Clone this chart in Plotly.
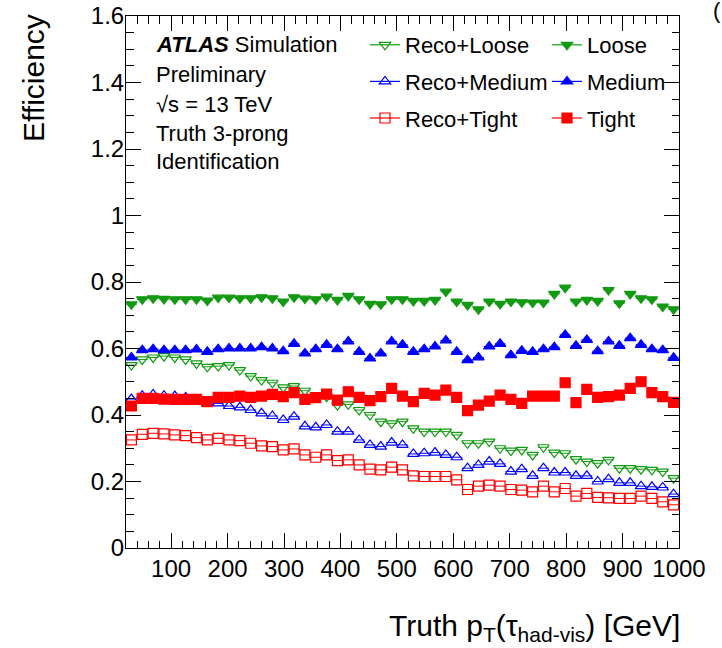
import numpy as np
import plotly.graph_objects as go

# pT binning of the efficiency histograms (GeV)
pt_edges = np.linspace(20.0, 1000.0, 52)
pt = 0.5 * (pt_edges[:-1] + pt_edges[1:])
pt_half = 0.5 * np.diff(pt_edges)

# Reconstruction + identification efficiencies
eff_reco_loose = [0.550, 0.567, 0.573, 0.577, 0.573, 0.567, 0.555, 0.545, 0.547, 0.550,
                  0.535, 0.517, 0.505, 0.497, 0.483, 0.487, 0.473, 0.460, 0.455, 0.430,
                  0.432, 0.415, 0.400, 0.380, 0.375, 0.380, 0.360, 0.350, 0.350, 0.350,
                  0.340, 0.315, 0.315, 0.320, 0.300, 0.293, 0.295, 0.280, 0.303, 0.287,
                  0.285, 0.267, 0.260, 0.255, 0.265, 0.240, 0.240, 0.237, 0.235, 0.230, 0.210]
eff_reco_medium = [0.448, 0.458, 0.462, 0.458, 0.457, 0.453, 0.447, 0.435, 0.435, 0.427,
                   0.423, 0.415, 0.405, 0.397, 0.385, 0.395, 0.366, 0.363, 0.370, 0.350,
                   0.350, 0.325, 0.310, 0.305, 0.317, 0.310, 0.283, 0.285, 0.287, 0.280,
                   0.273, 0.240, 0.250, 0.260, 0.253, 0.230, 0.237, 0.217, 0.240, 0.227,
                   0.227, 0.217, 0.217, 0.200, 0.207, 0.196, 0.196, 0.186, 0.184, 0.182, 0.162]
eff_reco_tight = [0.325, 0.342, 0.345, 0.343, 0.340, 0.338, 0.332, 0.325, 0.330, 0.325,
                  0.323, 0.315, 0.307, 0.305, 0.295, 0.298, 0.280, 0.273, 0.280, 0.263,
                  0.265, 0.250, 0.237, 0.235, 0.243, 0.235, 0.217, 0.215, 0.215, 0.215,
                  0.205, 0.176, 0.186, 0.189, 0.186, 0.176, 0.174, 0.169, 0.186, 0.169,
                  0.179, 0.156, 0.164, 0.152, 0.151, 0.149, 0.149, 0.156, 0.149, 0.139, 0.130]

# Identification-only efficiencies
eff_loose = [0.733, 0.748, 0.751, 0.749, 0.748, 0.748, 0.748, 0.744, 0.753, 0.753,
             0.751, 0.751, 0.754, 0.751, 0.741, 0.754, 0.750, 0.748, 0.756, 0.746,
             0.758, 0.748, 0.734, 0.733, 0.748, 0.748, 0.743, 0.743, 0.746, 0.771,
             0.741, 0.731, 0.718, 0.741, 0.734, 0.741, 0.739, 0.738, 0.738, 0.764,
             0.783, 0.741, 0.746, 0.743, 0.776, 0.736, 0.764, 0.751, 0.748, 0.726, 0.718]
eff_medium = [0.573, 0.595, 0.598, 0.595, 0.595, 0.595, 0.597, 0.590, 0.598, 0.600,
              0.600, 0.600, 0.604, 0.600, 0.592, 0.614, 0.585, 0.598, 0.611, 0.598,
              0.621, 0.590, 0.570, 0.585, 0.621, 0.611, 0.590, 0.598, 0.606, 0.624,
              0.590, 0.565, 0.573, 0.606, 0.614, 0.580, 0.593, 0.590, 0.598, 0.604,
              0.641, 0.608, 0.626, 0.592, 0.621, 0.608, 0.631, 0.611, 0.598, 0.595, 0.572]
eff_tight = [0.427, 0.450, 0.450, 0.448, 0.447, 0.447, 0.447, 0.440, 0.453, 0.453,
             0.457, 0.453, 0.457, 0.462, 0.455, 0.467, 0.447, 0.452, 0.463, 0.445,
             0.470, 0.453, 0.443, 0.455, 0.480, 0.457, 0.440, 0.465, 0.460, 0.475,
             0.453, 0.413, 0.430, 0.442, 0.460, 0.447, 0.435, 0.457, 0.457, 0.457,
             0.497, 0.437, 0.477, 0.453, 0.455, 0.460, 0.480, 0.500, 0.467, 0.455, 0.438]

GREEN = "#129a12"
BLUE = "#0000ff"
RED = "#ff0000"
FONT = "Liberation Sans, Arial, Helvetica, sans-serif"

series = [
    ("Reco+Loose", eff_reco_loose, GREEN, "triangle-down-open", 10, "legend"),
    ("Loose", eff_loose, GREEN, "triangle-down", 10, "legend2"),
    ("Reco+Medium", eff_reco_medium, BLUE, "triangle-up-open", 10, "legend"),
    ("Medium", eff_medium, BLUE, "triangle-up", 10, "legend2"),
    ("Reco+Tight", eff_reco_tight, RED, "square-open", 10, "legend"),
    ("Tight", eff_tight, RED, "square", 10, "legend2"),
]

fig = go.Figure()
for name, vals, col, sym, size, leg in series:
    fig.add_trace(go.Scatter(
        x=pt, y=vals, mode="markers", name=name, showlegend=False,
        marker=dict(symbol=sym, size=size, color=col, line=dict(color=col, width=1.2)),
        error_x=dict(type="data", array=pt_half, color=col, thickness=1, width=0),
    ))
    # legend entry drawn in ROOT style: marker on a horizontal bar
    fig.add_trace(go.Scatter(
        x=[None], y=[None], mode="lines+markers", name=name, legend=leg,
        legendgroup=name,
        line=dict(color=col, width=1.2),
        marker=dict(symbol=sym, size=size, color=col, line=dict(color=col, width=1.2)),
    ))

axis_common = dict(
    showline=True, linecolor="black", linewidth=1, mirror="allticks",
    ticks="inside", ticklen=15, tickwidth=1, tickcolor="black",
    showgrid=False, zeroline=False, automargin=False,
    tickfont=dict(family=FONT, size=24, color="black"),
)

fig.update_xaxes(range=[20, 1000], tick0=0, dtick=100, ticklabelstandoff=-1,
                 minor=dict(dtick=20, ticks="inside", ticklen=7.5, tickcolor="black", showgrid=False),
                 **axis_common)
fig.update_yaxes(range=[0, 1.6], tick0=0, dtick=0.2, ticklabelstandoff=-4,
                 minor=dict(dtick=0.05, ticks="inside", ticklen=7.5, tickcolor="black", showgrid=False),
                 **axis_common)

legend_common = dict(
    font=dict(family=FONT, size=22, color="black"),
    bgcolor="rgba(0,0,0,0)", borderwidth=0,
    xanchor="left", yanchor="top", tracegroupgap=5,
    itemclick=False, itemdoubleclick=False,
)

W, H = 722, 648
ML, MR, MT, MB = 126, 43, 16, 100
PW, PH = W - ML - MR, H - MT - MB


def px(xp):
    return (xp - ML) / PW


def py(yp):
    return (H - MB - yp) / PH


fig.update_layout(
    width=W, height=H,
    margin=dict(l=ML, r=MR, t=MT, b=MB, autoexpand=False),
    paper_bgcolor="white", plot_bgcolor="white",
    font=dict(family=FONT, color="black"),
    legend=dict(x=px(365), y=py(24), **legend_common),
    legend2=dict(x=px(547), y=py(24), **legend_common),
)

text_lines = [
    ("<b><i>ATLAS</i></b> Simulation", 44),
    ("Preliminary", 74),
    ("√s = 13 TeV", 104),
    ("Truth 3-prong", 133),
    ("Identification", 161),
]
for txt, yc in text_lines:
    fig.add_annotation(text=txt, xref="paper", yref="paper", x=px(154), y=py(yc),
                       xanchor="left", yanchor="middle", showarrow=False,
                       font=dict(family=FONT, size=22, color="black"))

fig.add_annotation(text="Efficiency", xref="paper", yref="paper", x=px(34), y=py(12),
                   xanchor="center", yanchor="top", textangle=-90, showarrow=False,
                   font=dict(family=FONT, size=30, color="black"))
fig.add_annotation(text="Truth p<sub>T</sub>(τ<sub>had-vis</sub>) [GeV]",
                   xref="paper", yref="paper", x=px(682), y=py(627),
                   xanchor="right", yanchor="middle", showarrow=False,
                   font=dict(family=FONT, size=30, color="black"))
fig.add_annotation(text="(", xref="paper", yref="paper", x=px(711), y=py(10),
                   xanchor="left", yanchor="middle", showarrow=False,
                   font=dict(family=FONT, size=22, color="black"))

fig.write_html("out.html")
